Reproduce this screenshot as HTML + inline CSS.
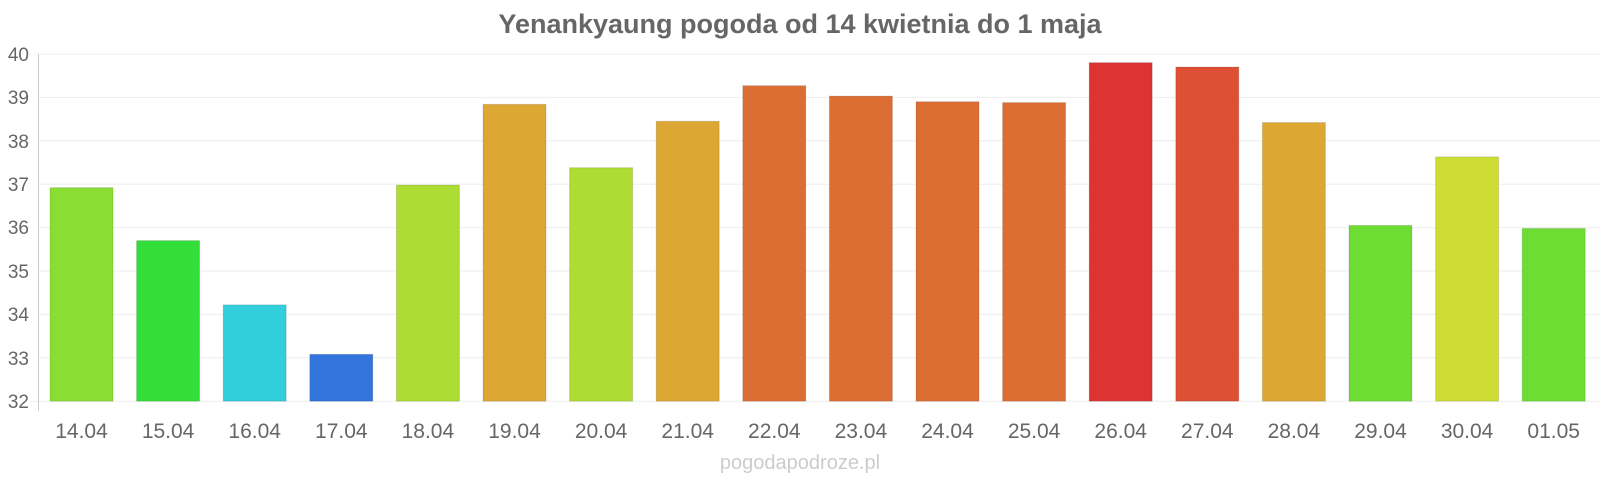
<!DOCTYPE html>
<html><head><meta charset="utf-8"><style>body{margin:0;background:#fff}svg{display:block}</style></head><body>
<svg width="1600" height="480" xmlns="http://www.w3.org/2000/svg" font-family="Liberation Sans, sans-serif">
<text x="800" y="33" text-anchor="middle" font-size="27" font-weight="bold" fill="#666">Yenankyaung pogoda od 14 kwietnia do 1 maja</text>
<g stroke="#eee" stroke-width="1">
<line x1="38" x2="1600" y1="54" y2="54"/><line x1="38" x2="1600" y1="97.4" y2="97.4"/><line x1="38" x2="1600" y1="140.8" y2="140.8"/><line x1="38" x2="1600" y1="184.2" y2="184.2"/><line x1="38" x2="1600" y1="227.6" y2="227.6"/><line x1="38" x2="1600" y1="271" y2="271"/><line x1="38" x2="1600" y1="314.4" y2="314.4"/><line x1="38" x2="1600" y1="357.8" y2="357.8"/><line x1="30" x2="1600" y1="401.2" y2="401.2"/>
</g>
<line x1="38.5" x2="38.5" y1="54" y2="411" stroke="#ccc"/>
<g font-size="19" fill="#666" text-anchor="end">
<text x="29" y="61">40</text><text x="29" y="104">39</text><text x="29" y="148">38</text><text x="29" y="191">37</text><text x="29" y="234">36</text><text x="29" y="278">35</text><text x="29" y="321">34</text><text x="29" y="365">33</text><text x="29" y="408">32</text>
</g>
<g stroke="rgba(0,0,0,0.12)" stroke-width="1">
<rect x="50" y="187.67" width="63" height="213.53" fill="#8add33"/>
<rect x="136.6" y="240.62" width="63" height="160.58" fill="#33dd3a"/>
<rect x="223.2" y="304.85" width="63" height="96.35" fill="#33cedb"/>
<rect x="309.8" y="354.33" width="63" height="46.87" fill="#3374dd"/>
<rect x="396.4" y="185.07" width="63" height="216.13" fill="#addd33"/>
<rect x="483" y="104.34" width="63" height="296.86" fill="#dda733"/>
<rect x="569.6" y="167.71" width="63" height="233.49" fill="#addd33"/>
<rect x="656.2" y="121.27" width="63" height="279.93" fill="#dda733"/>
<rect x="742.8" y="85.68" width="63" height="315.52" fill="#dd6e33"/>
<rect x="829.4" y="96.1" width="63" height="305.1" fill="#dd6e33"/>
<rect x="916" y="101.74" width="63" height="299.46" fill="#dd6e33"/>
<rect x="1002.6" y="102.61" width="63" height="298.59" fill="#dd6e33"/>
<rect x="1089.2" y="62.68" width="63" height="338.52" fill="#dd3333"/>
<rect x="1175.8" y="67.02" width="63" height="334.18" fill="#dd5033"/>
<rect x="1262.4" y="122.57" width="63" height="278.63" fill="#dda733"/>
<rect x="1349" y="225.43" width="63" height="175.77" fill="#6ddd33"/>
<rect x="1435.6" y="156.86" width="63" height="244.34" fill="#cedd33"/>
<rect x="1522.2" y="228.47" width="63" height="172.73" fill="#6ddd33"/>
</g>
<g font-size="21" fill="#666" text-anchor="middle">
<text x="81.5" y="438">14.04</text><text x="168.1" y="438">15.04</text><text x="254.7" y="438">16.04</text><text x="341.3" y="438">17.04</text><text x="427.9" y="438">18.04</text><text x="514.5" y="438">19.04</text><text x="601.1" y="438">20.04</text><text x="687.7" y="438">21.04</text><text x="774.3" y="438">22.04</text><text x="860.9" y="438">23.04</text><text x="947.5" y="438">24.04</text><text x="1034.1" y="438">25.04</text><text x="1120.7" y="438">26.04</text><text x="1207.3" y="438">27.04</text><text x="1293.9" y="438">28.04</text><text x="1380.5" y="438">29.04</text><text x="1467.1" y="438">30.04</text><text x="1553.7" y="438">01.05</text>
</g>
<text x="800" y="469" text-anchor="middle" font-size="20" fill="#ccc">pogodapodroze.pl</text>
</svg>
</body></html>
